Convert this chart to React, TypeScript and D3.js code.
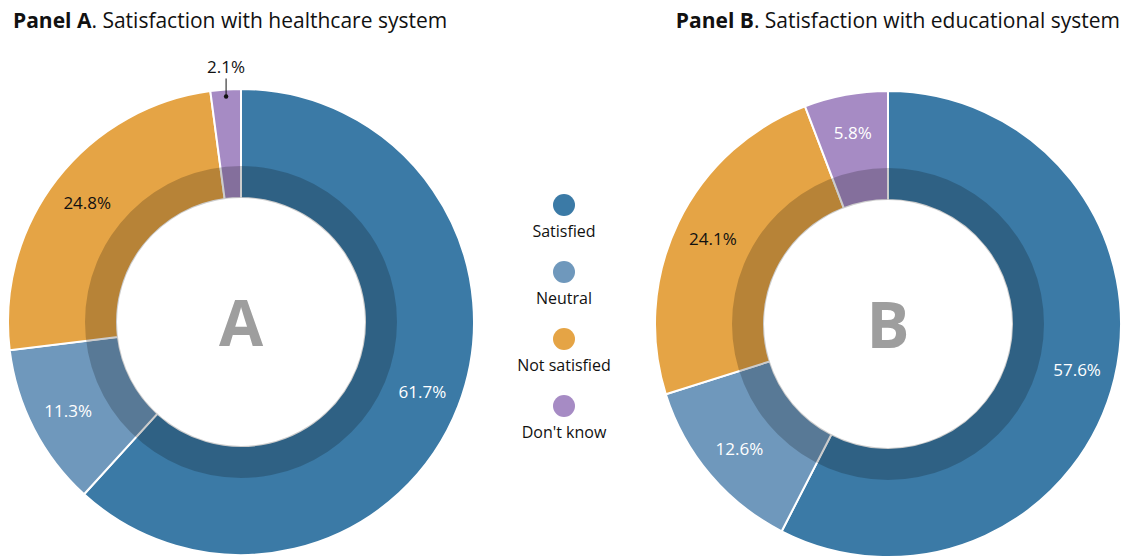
import React from "react";
import * as d3 from "d3";

const categories = ["Satisfied", "Neutral", "Not satisfied", "Don't know"];
const colors = ["#3B7AA6", "#6F98BC", "#E5A445", "#A68BC4"];
const healthValues = [61.7, 11.3, 24.8, 2.1];
const educationValues = [57.6, 12.6, 24.1, 5.8];
const labelColorsA = ["#fff", "#fff", "#111", "#111"];
const labelColorsB = ["#fff", "#fff", "#111", "#fff"];
const outsideA = [false, false, false, true];
const outsideB = [false, false, false, false];

const FONT = "'Open Sans', sans-serif";

function Donut({ cx, cy, values, letter, labelColors, outside }: any) {
  const R = 233, Rmid = 156, Rin = 124;
  const pie = d3.pie<number>().sort(null).value((d) => d)(values);
  const arcOuter = d3.arc<any>().innerRadius(Rin).outerRadius(R);
  const arcLabel = d3.arc<any>().innerRadius(Rmid).outerRadius(R);
  const ring = d3.arc<any>().innerRadius(Rin).outerRadius(Rmid).startAngle(0).endAngle(2 * Math.PI);
  return (
    <g transform={`translate(${cx},${cy})`}>
      {pie.map((p, i) => (
        <path key={i} d={arcOuter(p) as string} fill={colors[i]} stroke="#fff" strokeWidth={2} />
      ))}
      <path d={ring(null as any) as string} fill="#000" opacity={0.2} />
      {pie.map((p, i) => {
        const txt = `${values[i]}%`;
        if (outside[i]) {
          const a = (p.startAngle + p.endAngle) / 2;
          const r0 = 226;
          const x = Math.sin(a) * r0;
          const y = -Math.cos(a) * r0;
          return (
            <g key={i}>
              <line x1={x} y1={y} x2={x} y2={y - 18} stroke="#111" strokeWidth={1} />
              <circle cx={x} cy={y} r={2.2} fill="#111" />
              <text x={x} y={y - 24} textAnchor="middle" fontFamily={FONT} fontSize={17} fill={labelColors[i]}>{txt}</text>
            </g>
          );
        }
        const [x, y] = arcLabel.centroid(p);
        return (
          <text key={i} x={x} y={y} dy="0.35em" textAnchor="middle" fontFamily={FONT} fontSize={17} fill={labelColors[i]}>{txt}</text>
        );
      })}
      <text x={0} y={24} textAnchor="middle" fontFamily={FONT} fontWeight={700} fontSize={64} fill="#9E9E9E">{letter}</text>
    </g>
  );
}

export default function App() {
  const legendY = d3.scalePoint<string>().domain(categories).range([205, 406]);
  return (
    <svg width={1121} height={557} style={{ position: "absolute", left: 0, top: 0 }}>
      <rect width={1121} height={557} fill="#fff" />
      <text x={13} y={28} fontFamily={FONT} fontSize={21} fill="#111">
        <tspan fontWeight={700}>Panel A</tspan>. Satisfaction with healthcare system
      </text>
      <text x={1120} y={28} textAnchor="end" fontFamily={FONT} fontSize={21} fill="#111">
        <tspan fontWeight={700}>Panel B</tspan>. Satisfaction with educational system
      </text>
      <Donut cx={241} cy={322} values={healthValues} letter="A" labelColors={labelColorsA} outside={outsideA} />
      <Donut cx={888} cy={324} values={educationValues} letter="B" labelColors={labelColorsB} outside={outsideB} />
      {categories.map((c, i) => (
        <g key={c}>
          <circle cx={564} cy={legendY(c)} r={11} fill={colors[i]} />
          <text x={564} y={(legendY(c) as number) + 32} textAnchor="middle" fontFamily={FONT} fontSize={16} fill="#111">{c}</text>
        </g>
      ))}
    </svg>
  );
}
